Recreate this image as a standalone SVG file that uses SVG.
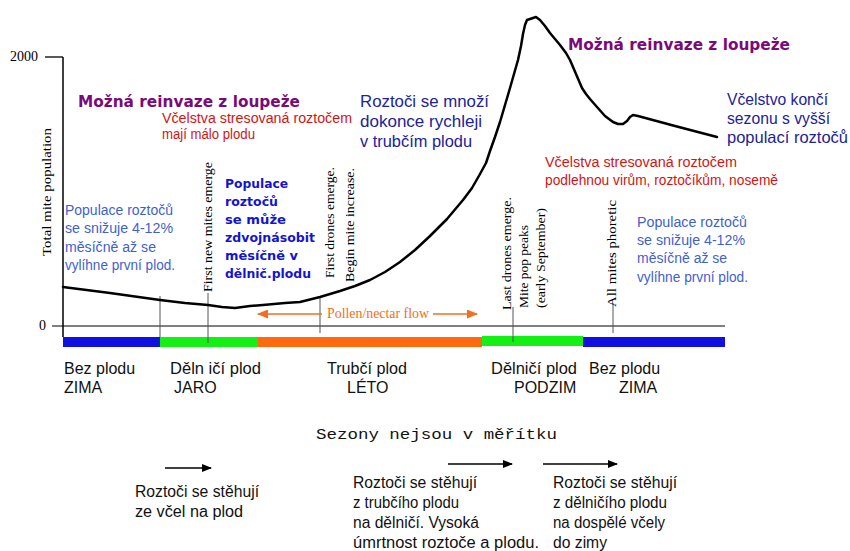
<svg xmlns="http://www.w3.org/2000/svg" width="850" height="551" viewBox="0 0 850 551">
<style>
.sans{font-family:"Liberation Sans",Arial,sans-serif}
.serif{font-family:"Liberation Serif","Times New Roman",serif}
.mono{font-family:"Liberation Mono","Courier New",monospace}
.bold{font-family:"DejaVu Sans",Verdana,sans-serif;font-weight:bold}
.purple{fill:#7a0a7a;font-size:15.5px}
.red{fill:#d01414;font-size:14px}
.dblue{fill:#22229a;font-size:16.5px}
.lblue{fill:#3f5fd0;font-size:14px}
.bblue{fill:#1414d0;font-size:12.5px}
.vt{font-size:13px;fill:#000}
.season{font-size:16px;fill:#111}
.note{font-size:16px;fill:#111}
.mark{stroke:#555;stroke-width:1;fill:none}
</style>
<defs>
<marker id="ah" markerWidth="10" markerHeight="8" refX="9" refY="4" orient="auto" markerUnits="userSpaceOnUse">
<path d="M0,0 L10,4 L0,8 Z" fill="#000"/>
</marker>
<marker id="oh" markerWidth="11" markerHeight="9" refX="10" refY="4.5" orient="auto" markerUnits="userSpaceOnUse">
<path d="M0,0 L11,4.5 L0,9 Z" fill="#f07020"/>
</marker>
</defs>
<rect width="850" height="551" fill="#fff"/>

<g id="axes">
<line x1="63" y1="57" x2="63" y2="337" stroke="#000" stroke-width="1.5"/>
<line x1="45" y1="57" x2="63" y2="57" stroke="#000" stroke-width="1.3"/>
<line x1="52" y1="326" x2="725" y2="326" stroke="#000" stroke-width="1"/>
<text class="serif" x="10" y="61" font-size="14">2000</text>
<text class="serif" x="39" y="330" font-size="14">0</text>
<text class="serif vt" transform="translate(51,256) rotate(-90)" textLength="128" lengthAdjust="spacingAndGlyphs">Total mite population</text>
</g>

<g id="season-bar">
<rect x="63" y="337" width="97" height="10" fill="#1010e0"/>
<rect x="160" y="337" width="98" height="10" fill="#14f014"/>
<rect x="258" y="337" width="224" height="10" fill="#ff6a10"/>
<rect x="482" y="336" width="101" height="10" fill="#14f014"/>
<rect x="583" y="337" width="142" height="10" fill="#1010e0"/>
</g>

<g id="markers">
<line class="mark" x1="160" y1="296" x2="160" y2="337"/>
<line class="mark" x1="208" y1="293" x2="208" y2="343"/>
<line class="mark" x1="320" y1="297" x2="320" y2="333"/>
<line class="mark" x1="513" y1="307" x2="513" y2="342"/>
<line class="mark" x1="613" y1="303" x2="613" y2="333"/>
<text class="serif vt" transform="translate(212,292) rotate(-90)" textLength="130" lengthAdjust="spacingAndGlyphs">First new mites emerge</text>
<text class="serif vt" transform="translate(334,278) rotate(-90)" textLength="111" lengthAdjust="spacingAndGlyphs">First drones emerge.</text>
<text class="serif vt" transform="translate(354,282) rotate(-90)" textLength="114" lengthAdjust="spacingAndGlyphs">Begin mite increase.</text>
<text class="serif vt" transform="translate(511,310) rotate(-90)" textLength="113" lengthAdjust="spacingAndGlyphs">Last drones emerge.</text>
<text class="serif vt" transform="translate(528,308) rotate(-90)" textLength="83" lengthAdjust="spacingAndGlyphs">Mite pop peaks</text>
<text class="serif vt" transform="translate(545,308) rotate(-90)" textLength="100" lengthAdjust="spacingAndGlyphs">(early September)</text>
<text class="serif vt" transform="translate(616,307) rotate(-90)" textLength="107" lengthAdjust="spacingAndGlyphs">All mites phoretic</text>
</g>

<g id="curve">
<polyline fill="none" stroke="#000" stroke-width="2.5" stroke-linejoin="round" stroke-linecap="round" points="63,287 110,293 160,300 185,303 208,305 222,307 235,308 250,306 263,305 285,303 300,302 312,299 320,297 330,294 340,291 355,286 370,280 385,272 400,262 415,250 430,236 447,219 463,200 472,188 480,174 486,163 490,151 495,137 500,122 505,105 510,88 514,74 518,60 521,46 523,34 525,25 527,20 530,19 533,18 536,17 540,20 545,26 550,33 560,45 566,53 570,60 576,74 582,88 586,94 590,99 597,107 605,116 613,122 618,124 623,124 627,121 630,117 633,115 638,116 675,126 717,137"/>
</g>

<g id="connectors">
<line x1="322" y1="314" x2="258" y2="314" stroke="#f07020" stroke-width="1.5" marker-end="url(#oh)"/>
<line x1="433" y1="314" x2="477" y2="314" stroke="#f07020" stroke-width="1.5" marker-end="url(#oh)"/>
<line x1="165" y1="468" x2="211" y2="468" stroke="#000" stroke-width="1.5" marker-end="url(#ah)"/>
<line x1="448" y1="464" x2="512" y2="464" stroke="#000" stroke-width="1.5" marker-end="url(#ah)"/>
<line x1="543" y1="464" x2="617" y2="464" stroke="#000" stroke-width="1.5" marker-end="url(#ah)"/>
</g>

<g id="pollen-label">
<text class="serif" x="327" y="318" font-size="14" fill="#f07020" textLength="102" lengthAdjust="spacingAndGlyphs">Pollen/nectar flow</text>
</g>

<g id="reinvaze-left">
<text class="bold purple" x="78" y="107" textLength="222" lengthAdjust="spacingAndGlyphs">Možná reinvaze z loupeže</text>
</g>
<g id="reinvaze-right">
<text class="bold purple" x="568" y="50" textLength="222" lengthAdjust="spacingAndGlyphs">Možná reinvaze z loupeže</text>
</g>

<g id="stress-left" class="sans red">
<text x="162" y="123" textLength="190" lengthAdjust="spacingAndGlyphs">Včelstva stresovaná roztočem</text>
<text x="162" y="139" textLength="93" lengthAdjust="spacingAndGlyphs">mají málo plodu</text>
</g>

<g id="stress-right" class="sans red">
<text x="545" y="167" textLength="192" lengthAdjust="spacingAndGlyphs">Včelstva stresovaná roztočem</text>
<text x="545" y="185" textLength="233" lengthAdjust="spacingAndGlyphs">podlehnou virům, roztočíkům, nosemě</text>
</g>

<g id="mites-multiply" class="sans dblue">
<text x="360" y="107" textLength="129" lengthAdjust="spacingAndGlyphs">Roztoči se množí</text>
<text x="360" y="127" textLength="122" lengthAdjust="spacingAndGlyphs">dokonce rychleji</text>
<text x="360" y="147" textLength="112" lengthAdjust="spacingAndGlyphs">v trubčím plodu</text>
</g>

<g id="season-end" class="sans dblue">
<text x="727" y="105" textLength="101" lengthAdjust="spacingAndGlyphs">Včelstvo končí</text>
<text x="727" y="124" textLength="103" lengthAdjust="spacingAndGlyphs">sezonu s vyšší</text>
<text x="727" y="143" textLength="121" lengthAdjust="spacingAndGlyphs">populací roztočů</text>
</g>

<g id="decline-left" class="sans lblue">
<text x="65" y="215" textLength="108" lengthAdjust="spacingAndGlyphs">Populace roztočů</text>
<text x="65" y="233" textLength="108" lengthAdjust="spacingAndGlyphs">se snižuje 4-12%</text>
<text x="65" y="252" textLength="91" lengthAdjust="spacingAndGlyphs">měsíčně až se</text>
<text x="65" y="270" textLength="110" lengthAdjust="spacingAndGlyphs">vylíhne první plod.</text>
</g>

<g id="decline-right" class="sans lblue">
<text x="637" y="227" textLength="110" lengthAdjust="spacingAndGlyphs">Populace roztočů</text>
<text x="637" y="245" textLength="108" lengthAdjust="spacingAndGlyphs">se snižuje 4-12%</text>
<text x="637" y="263" textLength="90" lengthAdjust="spacingAndGlyphs">měsíčně až se</text>
<text x="637" y="282" textLength="111" lengthAdjust="spacingAndGlyphs">vylíhne první plod.</text>
</g>

<g id="double-monthly" class="bold bblue">
<text x="225" y="188" textLength="63" lengthAdjust="spacingAndGlyphs">Populace</text>
<text x="225" y="206" textLength="53" lengthAdjust="spacingAndGlyphs">roztočů</text>
<text x="225" y="224" textLength="61" lengthAdjust="spacingAndGlyphs">se může</text>
<text x="225" y="242" textLength="90" lengthAdjust="spacingAndGlyphs">zdvojnásobit</text>
<text x="225" y="260" textLength="73" lengthAdjust="spacingAndGlyphs">měsíčně v</text>
<text x="225" y="278" textLength="86" lengthAdjust="spacingAndGlyphs">dělnič.plodu</text>
</g>

<g id="season-labels" class="sans season">
<text x="64" y="374">Bez plodu</text>
<text x="64" y="393">ZIMA</text>
<text x="170" y="374" textLength="91" lengthAdjust="spacingAndGlyphs">Děln ičí plod</text>
<text x="174" y="393">JARO</text>
<text x="327" y="374" textLength="80" lengthAdjust="spacingAndGlyphs">Trubčí plod</text>
<text x="347" y="393">LÉTO</text>
<text x="491" y="374" textLength="86" lengthAdjust="spacingAndGlyphs">Dělničí plod</text>
<text x="514" y="393">PODZIM</text>
<text x="589" y="374">Bez plodu</text>
<text x="619" y="393">ZIMA</text>
</g>

<g id="scale-note">
<text class="mono" x="316" y="439" font-size="15" fill="#111" textLength="241" lengthAdjust="spacingAndGlyphs">Sezony nejsou v měřítku</text>
</g>

<g id="move-1" class="sans note">
<text x="135" y="497" textLength="124" lengthAdjust="spacingAndGlyphs">Roztoči se stěhují</text>
<text x="135" y="517" textLength="108" lengthAdjust="spacingAndGlyphs">ze včel na plod</text>
</g>

<g id="move-2" class="sans note">
<text x="353" y="488" textLength="124" lengthAdjust="spacingAndGlyphs">Roztoči se stěhují</text>
<text x="353" y="508" textLength="106" lengthAdjust="spacingAndGlyphs">z trubčího plodu</text>
<text x="353" y="528" textLength="126" lengthAdjust="spacingAndGlyphs">na dělničí. Vysoká</text>
<text x="353" y="548" textLength="186" lengthAdjust="spacingAndGlyphs">úmrtnost roztoče a plodu.</text>
</g>

<g id="move-3" class="sans note">
<text x="553" y="488" textLength="124" lengthAdjust="spacingAndGlyphs">Roztoči se stěhují</text>
<text x="553" y="508" textLength="114" lengthAdjust="spacingAndGlyphs">z dělničího plodu</text>
<text x="553" y="528" textLength="112" lengthAdjust="spacingAndGlyphs">na dospělé včely</text>
<text x="553" y="548" textLength="54" lengthAdjust="spacingAndGlyphs">do zimy</text>
</g>
</svg>
